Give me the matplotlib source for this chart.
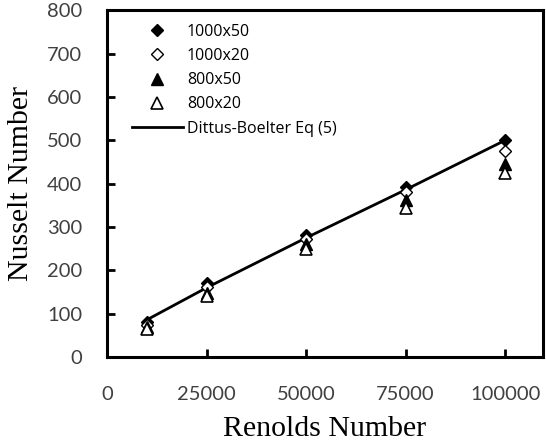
import matplotlib
matplotlib.use("Agg")
import matplotlib.pyplot as plt

re_vals = [10000, 25000, 50000, 75000, 100000]
nu_1000x50 = [80, 172, 282, 393, 500]
nu_1000x20 = [75, 162, 272, 380, 475]
nu_800x50 = [70, 148, 262, 362, 445]
nu_800x20 = [65, 140, 250, 345, 425]
nu_dittus = [86, 160, 275, 386, 500]

x_ticks = [0, 25000, 50000, 75000, 100000]
y_ticks = [0, 100, 200, 300, 400, 500, 600, 700, 800]

fig = plt.figure(figsize=(5.46, 4.42), dpi=100)
ax = fig.add_axes([0.196, 0.192, 0.7985, 0.785])

tick_font = "Lato"
ax.plot(re_vals, nu_dittus, color="black", lw=2, label="Dittus-Boelter Eq (5)", zorder=2)
ax.plot(re_vals, nu_1000x50, ls="none", marker="D", ms=6.5, mfc="black", mec="black", label="1000x50", zorder=3)
ax.plot(re_vals, nu_1000x20, ls="none", marker="D", ms=6.5, mfc="white", mec="black", mew=1, label="1000x20", zorder=3)
ax.plot(re_vals, nu_800x50, ls="none", marker="^", ms=8, mfc="black", mec="black", label="800x50", zorder=3)
ax.plot(re_vals, nu_800x20, ls="none", marker="^", ms=8, mfc="white", mec="black", mew=1.2, label="800x20", zorder=3)

ax.set_xlim(0, 109500)
ax.set_ylim(0, 800)
ax.set_xticks(x_ticks)
ax.set_yticks(y_ticks)
ax.set_xticklabels([str(v) for v in x_ticks], fontfamily=tick_font, fontsize=14.5, color="#404040")
ax.set_yticklabels([str(v) for v in y_ticks], fontfamily=tick_font, fontsize=14.5, color="#404040")
ax.tick_params(direction="in", length=6, width=2)
ax.tick_params(axis="y", pad=18)
ax.tick_params(axis="x", pad=21)
for s in ax.spines.values():
    s.set_linewidth(2.2)

ax.set_xlabel("Renolds Number", fontfamily="Liberation Serif", fontsize=21.5, labelpad=9)
ax.set_ylabel("Nusselt Number", fontfamily="Liberation Serif", fontsize=21.5, labelpad=9)

handles, labels = ax.get_legend_handles_labels()
order = [1, 2, 3, 4, 0]
leg = ax.legend([handles[i] for i in order], [labels[i] for i in order],
                loc="upper left", frameon=False, prop={"family": "Open Sans", "size": 11.5},
                handlelength=3.2, handletextpad=0.25, labelspacing=0.52,
                bbox_to_anchor=(0.024, 1.003))

fig.savefig("out.png", dpi=100)
